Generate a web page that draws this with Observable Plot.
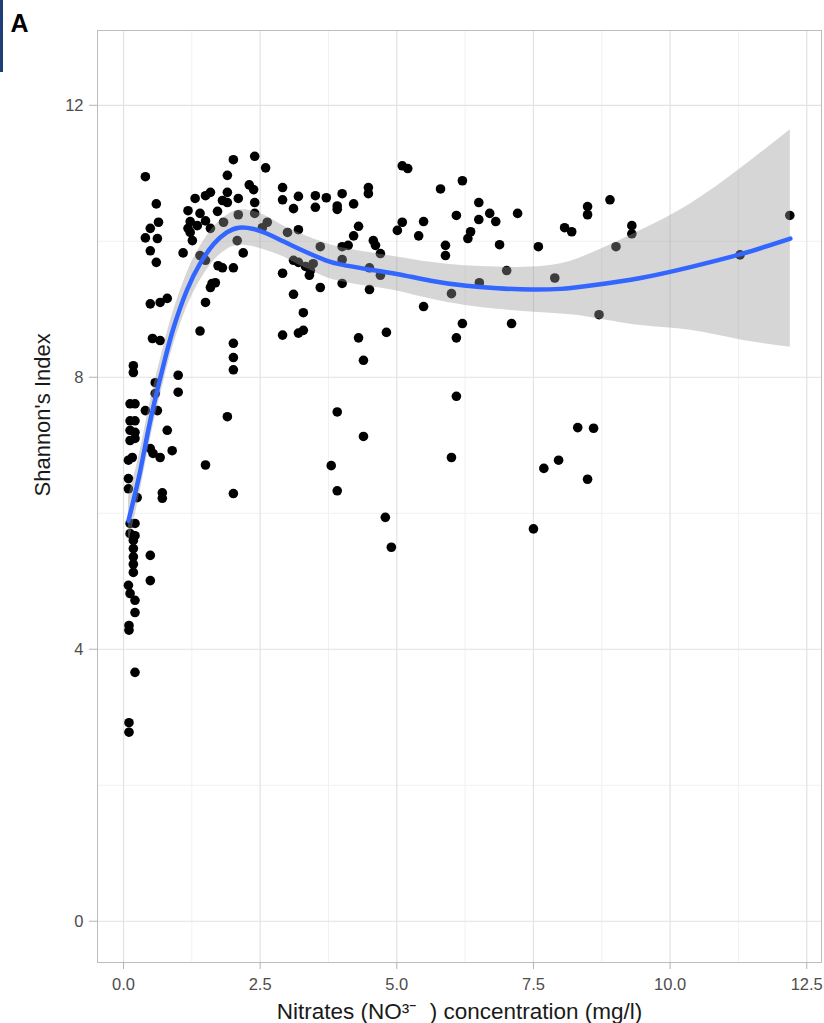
<!DOCTYPE html>
<html>
<head>
<meta charset="utf-8">
<script src="https://cdn.jsdelivr.net/npm/d3@7"></script>
<script src="https://cdn.jsdelivr.net/npm/@observablehq/plot@0.6"></script>
<style>
  html, body { margin: 0; padding: 0; background: #ffffff; }
  #wrap { position: relative; width: 824px; height: 1023px; }
  #bar { position: absolute; left: 0; top: 0; width: 3px; height: 72px; background: #1e3f78; }
</style>
</head>
<body>
<div id="wrap"><div id="bar"></div></div>
<script>
// Nitrate concentration (mg/l) of each sample
const nitrate = [
  0.10,0.10,0.21,0.10,0.10,0.21,0.21,0.12,0.09,0.49,0.49,0.18,0.18,0.18,0.18,0.18,0.12,0.21,0.12,0.21,
  0.25,0.09,0.09,0.09,0.16,0.12,0.21,0.12,0.21,0.12,0.21,0.12,0.21,0.18,0.18,0.40,0.62,0.58,0.58,0.80,
  0.49,0.54,0.67,0.89,0.71,0.71,1.00,1.00,1.50,2.01,1.90,2.01,2.01,2.01,
  0.40,0.60,2.01,2.40,2.60,1.90,2.30,2.38,2.91,2.91,1.31,1.50,1.59,1.90,1.81,1.90,2.10,2.40,1.18,1.40,
  1.72,1.50,1.22,1.18,1.35,1.59,1.83,2.10,2.40,2.63,2.54,0.49,0.64,0.40,0.62,0.49,0.60,1.22,1.26,1.09,
  1.40,2.08,2.19,2.91,1.50,1.73,1.81,2.01,1.62,1.68,1.59,1.50,0.49,0.67,0.80,1.40,2.91,0.53,0.67,
  3.20,3.11,3.51,3.71,4.00,3.51,3.91,3.91,4.21,4.48,4.48,5.10,5.20,5.80,6.20,6.50,6.09,6.50,6.70,6.81,
  7.21,4.30,4.21,3.00,3.20,5.10,5.01,5.49,5.40,6.35,6.30,5.89,5.89,6.88,7.59,4.57,4.61,4.70,4.00,4.11,
  3.60,4.00,4.50,4.70,3.11,3.20,3.33,3.42,3.40,3.47,4.00,3.60,4.50,3.11,3.29,5.49,6.00,6.51,7.01,7.89,
  3.20,3.29,4.30,4.81,6.20,6.09,7.10,4.39,
  6.09,3.91,4.39,6.00,3.80,3.91,4.79,4.90,7.69,7.96,7.50,8.31,8.60,8.49,8.70,8.49,8.49,8.90,8.07,8.20,
  9.30,9.30,9.01,11.28,12.19
];

// Shannon diversity index of each sample (same order)
const shannon = [
  2.92,2.78,3.66,4.35,4.28,4.54,4.72,4.82,4.94,5.01,5.38,5.13,5.25,5.36,5.48,5.60,5.70,5.67,5.85,5.85,
  6.23,6.36,6.51,6.78,6.82,7.07,7.10,7.22,7.19,7.36,7.36,7.61,7.61,8.07,8.17,7.51,7.51,7.92,7.76,7.22,
  6.95,6.88,6.82,6.92,6.30,6.22,8.03,7.78,6.71,6.29,7.42,8.11,8.29,8.50,
  10.95,10.55,11.20,11.25,11.08,10.97,10.83,10.76,10.79,10.61,10.63,10.67,10.72,10.72,10.60,10.57,10.63,10.57,10.45,10.41,
  10.44,10.30,10.29,10.19,10.23,10.19,10.28,10.39,10.41,10.28,10.20,10.19,10.28,10.05,10.04,9.86,9.69,10.13,10.01,9.83,
  9.79,10.01,9.83,9.53,9.72,9.64,9.61,9.61,9.38,9.39,9.32,9.10,9.08,9.10,9.16,8.68,8.62,8.57,8.54,
  10.66,10.48,10.67,10.64,10.70,10.50,10.52,10.47,10.55,10.79,10.70,11.11,11.07,10.77,10.89,10.57,10.38,10.32,10.41,10.29,
  10.41,10.22,10.08,10.13,10.17,10.28,10.16,10.29,10.08,10.14,10.04,9.94,9.79,9.95,9.92,10.01,9.94,9.82,9.92,9.94,
  9.92,9.73,9.61,9.50,9.72,9.69,9.63,9.57,9.50,9.67,9.38,9.32,9.29,9.22,8.95,9.04,9.23,9.39,9.57,9.46,
  8.65,8.69,8.58,8.66,8.79,8.58,8.79,8.25,
  7.72,7.49,7.13,6.82,6.70,6.33,5.94,5.50,6.66,6.78,5.77,7.26,7.25,6.50,8.92,10.51,10.39,10.61,10.20,10.14,
  10.23,10.11,9.92,9.80,10.38
];

// LOESS fit with its confidence band
const fitX     = [0.09,0.3,0.5,0.75,0.92,1.16,1.4,1.65,1.89,2.11,2.38,2.63,2.87,3.1,3.4,3.7,3.97,4.46,5.0,5.62,6.23,6.84,7.45,8.0,8.55,9.46,10.37,11.29,12.2];
const fitY     = [5.89,6.6,7.4,8.24,8.74,9.28,9.67,9.96,10.13,10.2,10.18,10.11,10.02,9.93,9.82,9.72,9.66,9.59,9.52,9.42,9.35,9.31,9.29,9.30,9.35,9.46,9.62,9.81,10.04];
const fitLower = [5.54,6.30,7.12,7.98,8.49,9.03,9.42,9.71,9.88,9.94,9.92,9.86,9.79,9.70,9.58,9.47,9.41,9.34,9.27,9.15,9.06,9.00,8.96,8.93,8.88,8.76,8.69,8.55,8.44];
const fitUpper = [6.24,6.90,7.68,8.50,8.99,9.53,9.92,10.21,10.38,10.46,10.44,10.36,10.25,10.16,10.06,9.97,9.91,9.84,9.77,9.69,9.64,9.62,9.62,9.67,9.82,10.16,10.55,11.07,11.64];

// Axis ticks and grid
const xTicks = [0, 2.5, 5, 7.5, 10, 12.5];
const xMinor = [1.25, 3.75, 6.25, 8.75, 11.25];
const yTicks = [0, 4, 8, 12];
const yMinor = [2, 6, 10];

const xTitle = "Nitrates (NO\u00B3\u207B  ) concentration (mg/l)";
const yTitle = "Shannon's Index";
const panelTag = "A";

const samples = nitrate.map((x, i) => ({x, y: shannon[i]}));
const fit = fitX.map((x, i) => ({x, y: fitY[i], lo: fitLower[i], hi: fitUpper[i]}));

const font = "'Liberation Sans', Arial, sans-serif";

const chart = Plot.plot({
  width: 824,
  height: 1023,
  marginLeft: 97,
  marginRight: 3,
  marginTop: 30,
  marginBottom: 61,
  style: {fontFamily: font, fontSize: "16.5px", background: "#ffffff", overflow: "visible"},
  x: {domain: [-0.476, 12.77]},
  y: {domain: [-0.607, 13.1]},
  marks: [
    // grid
    Plot.ruleX(xMinor, {stroke: "#f1f1f1", strokeWidth: 1}),
    Plot.ruleY(yMinor, {stroke: "#f1f1f1", strokeWidth: 1}),
    Plot.ruleX(xTicks, {stroke: "#e2e2e2", strokeWidth: 1.2}),
    Plot.ruleY(yTicks, {stroke: "#e2e2e2", strokeWidth: 1.2}),
    // samples
    Plot.dot(samples, {x: "x", y: "y", r: 4.8, fill: "#000000", stroke: "none"}),
    // smoother
    Plot.areaY(fit, {x: "x", y1: "lo", y2: "hi", fill: "#999999", fillOpacity: 0.4, curve: "natural"}),
    Plot.line(fit, {x: "x", y: "y", stroke: "#3366ff", strokeWidth: 4.5, curve: "natural"}),
    Plot.frame({stroke: "#bcbcbc", strokeWidth: 1}),
    // axes
    Plot.axisX({ticks: xTicks, tickSize: 7, tickPadding: 9, tickFormat: d3.format(".1f"),
      fontSize: 16.5, fill: "#4d4d4d", stroke: "#b3b3b3", label: null}),
    Plot.axisY({ticks: yTicks, tickSize: 8, tickPadding: 6, tickFormat: d3.format("d"),
      fontSize: 16.5, fill: "#4d4d4d", stroke: "#b3b3b3", label: null}),
    // titles
    Plot.text([xTitle], {frameAnchor: "bottom", dy: 49, lineAnchor: "middle",
      fontSize: 22.5, fill: "#1a1a1a"}),
    Plot.text([yTitle], {frameAnchor: "left", dx: -55, rotate: -90, lineAnchor: "middle",
      fontSize: 22, fill: "#1a1a1a"}),
    Plot.text([panelTag], {frameAnchor: "top-left", dx: -87, dy: 1, textAnchor: "start",
      lineAnchor: "bottom", fontSize: 25, fontWeight: "bold", fill: "#000000"})
  ]
});

chart.style.position = "absolute";
chart.style.left = "0px";
chart.style.top = "0px";
document.getElementById("wrap").prepend(chart);
</script>
</body>
</html>
